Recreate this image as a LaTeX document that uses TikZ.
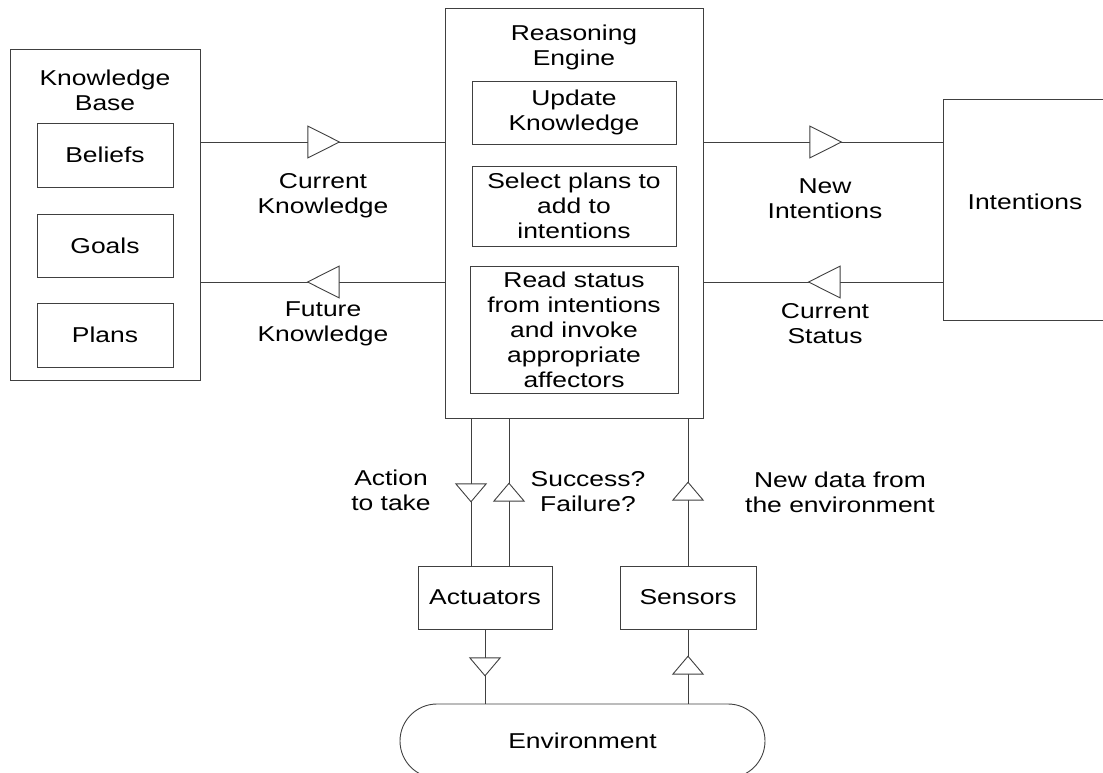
\documentclass[tikz,border=0pt]{standalone}
\usepackage{fontspec}
\setmainfont{Liberation Sans}[FakeStretch=1.23]
\usetikzlibrary{arrows.meta,decorations.markings,shapes.misc,positioning}

\definecolor{linegray}{gray}{0.25}

\begin{document}
\begin{tikzpicture}[x=1pt,y=-1pt,
    font=\fontsize{21.5}{25}\selectfont,
    box/.style={draw=linegray,line width=0.9pt,align=center,inner sep=0pt},
    txt/.style={align=center,inner sep=0pt},
    h_tip/.tip={Triangle[length=33pt,width=33pt,fill=white]},
    v_tip/.tip={Triangle[length=19pt,width=32pt,fill=white]},
    flow_h/.style={draw=linegray,line width=0.9pt,postaction={decorate},
      decoration={markings,mark=at position #1 with {\arrow{h_tip}}}},
    flow_v/.style={draw=linegray,line width=0.9pt,postaction={decorate},
      decoration={markings,mark=at position #1 with {\arrow{v_tip}}}}]
    \useasboundingbox (0,0) rectangle (1103,773);
    % knowledge base
    \node[box,minimum width=190pt,minimum height=331pt] (k_base) at (105,214.5) {};
    \node[txt] (k_title) at (105,90.5) {Knowledge\\Base};
    \node[box,minimum width=136pt,minimum height=64pt] (k_beliefs) at (105,155) {Beliefs};
    \node[box,minimum width=136pt,minimum height=63pt] (k_goals) at (105,245.5) {Goals};
    \node[box,minimum width=136pt,minimum height=64pt] (k_plans) at (105,335) {Plans};
    % reasoning engine
    \node[box,minimum width=258pt,minimum height=410pt] (r_engine) at (574,213) {};
    \node[txt] (r_title) at (574,47.5) {Reasoning\\Engine};
    \node[box,minimum width=204pt,minimum height=63pt] (r_update) at (574,112.5) {Update\\Knowledge};
    \node[box,minimum width=204pt,minimum height=80pt] (r_select) at (574,206) {Select plans to\\add to\\intentions};
    \node[box,minimum width=208pt,minimum height=127pt] (r_read) at (574,329.5) {Read status\\from intentions\\and invoke\\appropriate\\affectors};
    % intentions
    \node[box,minimum width=164pt,minimum height=221pt] (i_box) at (1025,209.5) {};
    \node[txt] (i_title) at (1025,202) {Intentions};
    % actuators, sensors, environment
    \node[box,minimum width=134pt,minimum height=63pt] (a_box) at (485,597.5) {Actuators};
    \node[box,minimum width=136pt,minimum height=63pt] (s_box) at (688,597.5) {Sensors};
    \node[box,rounded rectangle,minimum width=365pt,minimum height=74pt] (env) at (582.5,741) {Environment};
    % labels
    \node[txt] (l_cur_k) at (323,196) {Current\\Knowledge};
    \node[txt] (l_fut_k) at (323,323.5) {Future\\Knowledge};
    \node[txt] (l_new_i) at (825,199) {New\\Intentions};
    \node[txt] (l_cur_s) at (825,323.5) {Current\\Status};
    \node[txt] (l_action) at (391,490.5) {Action\\to take};
    \node[txt] (l_result) at (588,492) {Success?\\Failure?};
    \node[txt] (l_data) at (840,492) {New data from\\the environment};

    \coordinate (row_a) at (0,142);
    \coordinate (row_b) at (0,282);
    \coordinate (col_a) at (471,0);
    \coordinate (col_b) at (509,0);
    \path
    (k_base.east |- row_a) edge[flow_h=140pt] (r_engine.west |- row_a)
    (r_engine.west |- row_b) edge[flow_h=138pt] (k_base.east |- row_b)
    (r_engine.east |- row_a) edge[flow_h=139pt] (i_box.west |- row_a)
    (i_box.west |- row_b) edge[flow_h=135pt] (r_engine.east |- row_b)
    (r_engine.south -| col_a) edge[flow_v=84pt] (a_box.north -| col_a)
    (a_box.north -| col_b) edge[flow_v=83pt] (r_engine.south -| col_b)
    (s_box.north) edge[flow_v=84pt] (r_engine.south -| s_box.north)
    (a_box.south) edge[flow_v=47pt] (env.north -| a_box.south)
    (env.north -| s_box.south) edge[flow_v=48pt] (s_box.south)
    ; %end path
\end{tikzpicture}
\end{document}
